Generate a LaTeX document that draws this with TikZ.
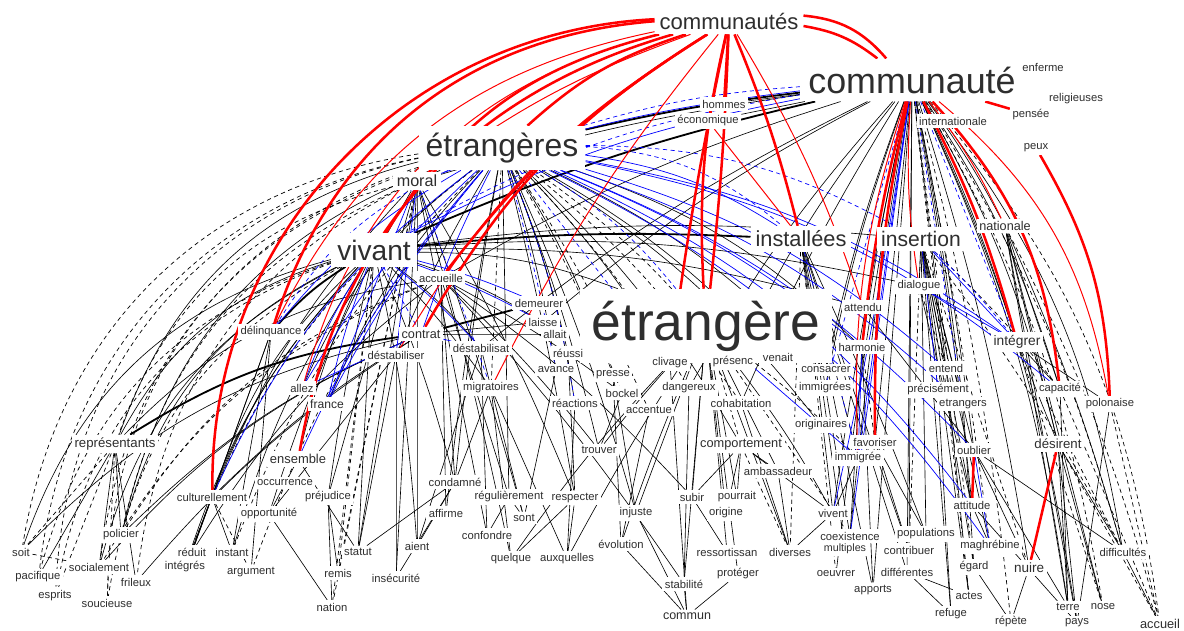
\documentclass[tikz,border=0pt]{standalone}
\usepackage{fontspec}
\setmainfont{Liberation Sans}
\usetikzlibrary{positioning}
\pgfdeclarelayer{edges}
\pgfsetlayers{edges,main}
\tikzset{
	word/.style={fill=white,inner sep={#1*0.22pt},text=black!82,font=\fontsize{#1}{#1}\selectfont},
	word/.default=8,
	bendto/.style={out={-(#1)},in={180+(#1)},relative},
	redE/.style={red,line width=1.8pt},
	redT/.style={red,line width=0.7pt},
	blkB/.style={black,line width=1.3pt},
	blkE/.style={black,line width=0.45pt},
	blkD/.style={black,line width=0.5pt,dash pattern=on 3pt off 2.5pt},
	bluE/.style={blue,line width=0.5pt},
	bluD/.style={blue,line width=0.5pt,dash pattern=on 3pt off 2.5pt},
}
\begin{document}
\begin{tikzpicture}[x=0.025cm,y=-0.025cm]
\useasboundingbox (0,0) rectangle (1184,631);
% big words
\node[word=15.7] (communautes) at (729,21) {communautés};
\node[word=25.5] (communaute) at (912,80) {communauté};
\node[word=22.7] (etrangeres) at (502,148) {étrangères};
\node[word=20] (vivant) at (374,250) {vivant};
\node[word=15.5] (installees) at (801,239) {installées};
\node[word=15] (insertion) at (921,239) {insertion};
\node[word=38] (etrangere) at (706,326) {étrangère};
\node[word=11.5] (moral) at (417,181) {moral};
\node[word=9] (nationale) at (1005,226) {nationale};
\node[word=9.8] (integrer) at (1017,342) {intégrer};
\node[word=9.4] (desirent) at (1058,444) {désirent};
\node[word=9.4] (representants) at (115,444) {représentants};
\node[word=9.1] (comportement) at (741,445) {comportement};
\node[word=9.2] (ensemble) at (298,459) {ensemble};
\node[word=9.6] (nuire) at (1029,568) {nuire};
\node[word=8.9] (commun) at (687,616) {commun};
\node[word=9.1] (accueil) at (1160,624) {accueil};
\node[word=9] (contrat) at (421,334) {contrat};
% small words, top
\node[word] (enferme) at (1043,67) {enferme};
\node[word] (religieuses) at (1076,99) {religieuses};
\node[word] (pensee) at (1031,115) {pensée};
\node[word] (internationale) at (953,121) {internationale};
\node[word] (peux) at (1036,148) {peux};
\node[word] (hommes) at (724,104) {hommes};
\node[word] (economique) at (708,121) {économique};
% small words, middle
\node[word] (accueille) at (441,278) {accueille};
\node[word] (demeurer) at (539,303) {demeurer};
\node[word] (laisse) at (543,322) {laisse};
\node[word] (allait) at (555,334) {allait};
\node[word] (delinquance) at (271,332) {délinquance};
\node[word] (destabilisat) at (481,348) {déstabilisat};
\node[word] (destabiliser) at (396,355) {déstabiliser};
\node[word] (reussi) at (568,353) {réussi};
\node[word] (avance) at (556,370) {avance};
\node[word] (migratoires) at (491,388) {migratoires};
\node[word] (reactions) at (575,403) {réactions};
\node[word] (allez) at (302,388) {allez};
\node[word=8.6] (france) at (327,404) {france};
\node[word] (presse) at (613,375) {presse};
\node[word] (bockel) at (622,393) {bockel};
\node[word] (accentue) at (649,410) {accentue};
\node[word] (clivage) at (670,363) {clivage};
\node[word] (dangereux) at (689,388) {dangereux};
\node[word] (presenc) at (733,362) {présenc};
\node[word] (venait) at (778,357) {venait};
\node[word] (consacrer) at (826,370) {consacrer};
\node[word] (immigrees) at (825,388) {immigrées};
\node[word] (cohabitation) at (741,403) {cohabitation};
\node[word] (attendu) at (863,307) {attendu};
\node[word] (harmonie) at (862,347) {harmonie};
\node[word] (dialogue) at (919,286) {dialogue};
\node[word] (entend) at (946,368) {entend};
\node[word] (precisement) at (938,390) {précisément};
\node[word] (etrangers) at (963,404) {etrangers};
\node[word] (capacite) at (1060,389) {capacité};
\node[word] (polonaise) at (1110,404) {polonaise};
\node[word] (originaires) at (821,425) {originaires};
\node[word] (favoriser) at (875,442) {favoriser};
\node[word] (immigree) at (858,458) {immigrée};
\node[word] (ambassadeur) at (778,471) {ambassadeur};
\node[word] (oublier) at (974,450) {oublier};
% small words, lower middle
\node[word] (trouver) at (599,450) {trouver};
\node[word] (condamne) at (455,482) {condamné};
\node[word] (regulierement) at (509,497) {régulièrement};
\node[word] (respecter) at (575,498) {respecter};
\node[word] (affirme) at (446,513) {affirme};
\node[word] (sont) at (524,518) {sont};
\node[word] (confondre) at (487,535) {confondre};
\node[word] (quelque) at (511,559) {quelque};
\node[word] (auxquelles) at (567,559) {auxquelles};
\node[word] (subir) at (692,497) {subir};
\node[word] (pourrait) at (737,497) {pourrait};
\node[word] (origine) at (726,513) {origine};
\node[word] (injuste) at (636,513) {injuste};
\node[word] (evolution) at (621,544) {évolution};
\node[word] (ressortissan) at (727,552) {ressortissan};
\node[word] (diverses) at (790,552) {diverses};
\node[word] (proteger) at (738,574) {protéger};
\node[word] (stabilite) at (684,584) {stabilité};
\node[word] (vivent) at (833,513) {vivent};
\node[word] (coexistence) at (850,536) {coexistence};
\node[word=7.6] (multiples) at (845,549) {multiples};
\node[word] (oeuvrer) at (836,574) {oeuvrer};
\node[word] (populations) at (926,534) {populations};
\node[word] (contribuer) at (909,550) {contribuer};
\node[word] (differentes) at (907,572) {différentes};
\node[word] (apports) at (873,590) {apports};
\node[word] (attitude) at (972,505) {attitude};
\node[word] (maghrebine) at (990,546) {maghrébine};
\node[word] (egard) at (974,567) {égard};
\node[word] (actes) at (969,596) {actes};
\node[word] (refuge) at (951,614) {refuge};
\node[word] (repete) at (1011,622) {répète};
\node[word] (terre) at (1068,607) {terre};
\node[word] (pays) at (1077,623) {pays};
\node[word] (nose) at (1103,607) {nose};
\node[word] (difficultes) at (1123,552) {difficultés};
% small words, left
\node[word] (culturellement) at (212,497) {culturellement};
\node[word] (occurrence) at (285,483) {occurrence};
\node[word] (opportunite) at (269,514) {opportunité};
\node[word] (prejudice) at (328,497) {préjudice};
\node[word] (policier) at (121,535) {policier};
\node[word] (soit) at (21,552) {soit};
\node[word] (reduit) at (192,552) {réduit};
\node[word] (instant) at (232,552) {instant};
\node[word] (socialement) at (99,567) {socialement};
\node[word] (integres) at (185,567) {intégrés};
\node[word] (argument) at (251,572) {argument};
\node[word] (pacifique) at (38,577) {pacifique};
\node[word] (frileux) at (136,582) {frileux};
\node[word] (esprits) at (55,596) {esprits};
\node[word] (soucieuse) at (107,603) {soucieuse};
\node[word] (statut) at (358,552) {statut};
\node[word] (aient) at (417,546) {aient};
\node[word] (remis) at (338,573) {remis};
\node[word] (insecurite) at (396,578) {insécurité};
\node[word] (nation) at (332,607) {nation};

\begin{pgfonlayer}{edges}
% black, solid
\foreach \a/\b/\g in {vivant/representants/22,vivant/soit/28,vivant/policier/24,vivant/socialement/24,vivant/culturellement/14,vivant/reduit/12,vivant/integres/12,vivant/instant/8,vivant/ensemble/6,vivant/prejudice/2,vivant/statut/0,vivant/aient/-4,vivant/condamne/-4,vivant/laisse/-6,vivant/destabilisat/-6,vivant/migratoires/-4,vivant/etrangere/-10,vivant/attendu/-8,vivant/dialogue/-8,vivant/insertion/-6,
	etrangeres/representants/28,etrangeres/policier/28,etrangeres/allez/14,etrangeres/france/10,etrangeres/destabiliser/4,etrangeres/presse/-6,etrangeres/reussi/-4,etrangeres/avance/-4,etrangeres/reactions/-6,etrangeres/trouver/-4,etrangeres/regulierement/0,etrangeres/respecter/-2,etrangeres/harmonie/-12,etrangeres/clivage/-6,etrangeres/venait/-8,etrangeres/consacrer/-10,etrangeres/originaires/-10,etrangeres/comportement/-8,etrangeres/injuste/-4,etrangeres/condamne/2,etrangeres/affirme/2,
	moral/prejudice/0,moral/statut/0,moral/insecurite/0,moral/aient/0,moral/sont/-2,moral/quelque/-2,moral/confondre/0,moral/respecter/-4,moral/culturellement/10,moral/opportunite/6,
	accueille/condamne/0,accueille/regulierement/0,accueille/bockel/-4,accueille/trouver/-4,accueille/subir/-6,accueille/stabilite/-4,accueille/affirme/0,accueille/representants/18,accueille/reduit/10,
	delinquance/culturellement/0,delinquance/reduit/0,delinquance/instant/0,delinquance/argument/0,contrat/policier/10,contrat/socialement/12,contrat/soit/16,contrat/culturellement/6,contrat/frileux/8,contrat/laisse/0,contrat/allait/0,
	destabiliser/statut/0,destabiliser/insecurite/0,destabiliser/opportunite/0,destabilisat/confondre/0,destabilisat/sont/0,destabilisat/aient/0,migratoires/condamne/0,migratoires/quelque/0,migratoires/auxquelles/0,presse/evolution/0,presse/injuste/0,bockel/trouver/0,reussi/respecter/0,avance/sont/0,reactions/auxquelles/0,
	etrangere/ambassadeur/0,etrangere/subir/0,etrangere/pourrait/0,etrangere/origine/0,etrangere/ressortissan/0,etrangere/diverses/0,etrangere/vivent/-4,etrangere/stabilite/0,etrangere/injuste/0,etrangere/evolution/2,etrangere/trouver/2,etrangere/quelque/4,etrangere/proteger/0,etrangere/auxquelles/2,clivage/commun/0,dangereux/stabilite/0,accentue/evolution/0,cohabitation/diverses/0,
	installees/vivent/0,installees/coexistence/0,installees/immigree/0,installees/populations/-2,installees/contribuer/0,installees/differentes/0,installees/apports/0,installees/multiples/0,
	insertion/dialogue/0,insertion/entend/0,insertion/precisement/0,insertion/etrangers/0,insertion/oublier/0,insertion/attitude/0,insertion/maghrebine/0,insertion/egard/0,insertion/actes/0,insertion/refuge/0,insertion/populations/0,
	communaute/nationale/-4,communaute/integrer/-4,communaute/capacite/-8,communaute/desirent/-8,communaute/difficultes/-14,communaute/terre/-8,communaute/pays/-8,communaute/nuire/-4,communaute/attitude/-2,communaute/oublier/-2,communaute/entend/0,communaute/etrangers/-2,communaute/favoriser/0,communaute/vivent/2,communaute/coexistence/2,communaute/oeuvrer/2,communaute/apports/0,communaute/contribuer/0,communaute/differentes/0,communaute/harmonie/2,communaute/consacrer/4,communaute/immigrees/4,communaute/presenc/6,communaute/dangereux/6,communaute/cohabitation/4,communaute/hommes/0,communaute/economique/0,communaute/moral/4,communaute/accueille/6,communaute/destabilisat/6,communaute/laisse/6,
	nationale/desirent/0,nationale/difficultes/-4,nationale/terre/0,nationale/pays/0,nationale/nose/0,nationale/capacite/0,integrer/capacite/0,integrer/polonaise/0,integrer/desirent/0,desirent/terre/0,desirent/pays/0,desirent/nose/0,desirent/difficultes/0,oublier/nuire/0,oublier/terre/0,oublier/difficultes/0,attitude/maghrebine/0,attitude/pays/0,difficultes/accueil/0,nuire/repete/0,egard/repete/0,differentes/refuge/0,actes/differentes/0,
	representants/pacifique/0,representants/socialement/0,representants/policier/0,representants/frileux/0,culturellement/reduit/0,culturellement/integres/0,culturellement/instant/0,opportunite/nation/0,prejudice/remis/0,prejudice/nation/0,ensemble/statut/0,ensemble/opportunite/0,condamne/statut/0,condamne/insecurite/0,condamne/aient/0,regulierement/confondre/0,regulierement/sont/0,respecter/auxquelles/0,respecter/quelque/0,
	evolution/commun/0,stabilite/commun/0,proteger/commun/0,injuste/commun/0,subir/ressortissan/0,pourrait/origine/0,ambassadeur/diverses/0,vivent/diverses/0,comportement/subir/0,comportement/pourrait/0,comportement/origine/0,comportement/ambassadeur/0,comportement/vivent/0,immigree/vivent/0,favoriser/populations/0,favoriser/contribuer/0,harmonie/coexistence/0,harmonie/apports/0,attendu/oublier/0,dialogue/attitude/0,entend/actes/0,precisement/refuge/0,etrangers/egard/0,capacite/terre/0,polonaise/pays/0}
	\draw[blkE] (\a) to[bendto=\g] (\b);
% black, dashed
\foreach \a/\b/\g in {etrangeres/soit/36,etrangeres/pacifique/36,etrangeres/esprits/38,etrangeres/soucieuse/36,etrangeres/socialement/32,etrangeres/frileux/30,moral/representants/28,moral/policier/26,vivant/esprits/30,vivant/pacifique/28,vivant/soucieuse/26,accueille/policier/18,accueille/socialement/18,etrangeres/integres/16,etrangeres/instant/12,etrangeres/argument/10,moral/remis/0,moral/nation/0,etrangeres/migratoires/0,etrangeres/bockel/-4,etrangeres/accentue/-4,etrangeres/dangereux/-6,etrangeres/presenc/-8,etrangeres/cohabitation/-8,
	communaute/accueil/-16,communaute/difficultes/-8,communaute/nose/-10,communaute/repete/-4,communaute/maghrebine/-2,communaute/egard/0,communaute/actes/0,nationale/accueil/-6,polonaise/accueil/0,capacite/accueil/0,insertion/capacite/-4,insertion/difficultes/-4,insertion/nuire/0,insertion/contribuer/0,integrer/nose/0,integrer/difficultes/0,desirent/accueil/0,
	representants/soit/0,representants/esprits/0,representants/soucieuse/0,soit/socialement/0,culturellement/argument/0,installees/diverses/0,installees/oeuvrer/0,comportement/diverses/0,vivant/remis/0,vivant/nation/0,etrangere/coexistence/0,etrangere/comportement/0,etrangere/immigree/-4,harmonie/favoriser/0,dialogue/entend/0}
	\draw[blkD] (\a) to[bendto=\g] (\b);
% black, heavy bundles
\foreach \a/\b/\g in {communaute/vivant/5,communaute/etrangeres/3,contrat/demeurer/0,vivant/installees/-4,contrat/representants/12,vivant/delinquance/8}
	\draw[blkB] (\a) to[bendto=\g] (\b);
% blue
\foreach \a/\b/\g in {etrangeres/delinquance/10,etrangeres/allez/8,etrangeres/france/6,etrangeres/culturellement/14,etrangeres/ensemble/8,etrangeres/contrat/4,communaute/vivant/8,communaute/moral/6,etrangeres/integrer/-12,etrangeres/entend/-12,etrangeres/capacite/-14,etrangeres/attitude/-14,etrangeres/maghrebine/-14,etrangeres/oublier/-12,etrangeres/etrangers/-12,etrangeres/harmonie/-8,etrangeres/installees/-12,vivant/destabilisat/-4,vivant/laisse/-4,vivant/demeurer/-4,vivant/allez/6,vivant/france/4,contrat/allez/0,contrat/destabilisat/0,communaute/vivent/-2,communaute/immigree/0,communaute/coexistence/0,moral/france/0,moral/destabiliser/0,harmonie/immigree/0,etrangere/immigree/0,insertion/precisement/0,insertion/integrer/0,oublier/maghrebine/0,dialogue/integrer/0}
	\draw[bluE] (\a) to[bendto=\g] (\b);
\foreach \a/\b/\g in {etrangeres/installees/-18,etrangeres/etrangere/-10,etrangeres/insertion/-14,communaute/etrangeres/6,communaute/vivant/10,moral/migratoires/0,communaute/immigrees/0,communaute/etrangers/0,etrangeres/delinquance/16,etrangeres/reactions/-6,etrangeres/clivage/0,insertion/integrer/-4,communaute/integrer/0,etrangeres/avance/-2,vivant/contrat/0,installees/immigree/0}
	\draw[bluD] (\a) to[bendto=\g] (\b);
% red
\foreach \a/\b/\g in {communautes/allez/30,communautes/delinquance/26,communautes/destabiliser/14,communautes/moral/8,communautes/migratoires/6,communautes/economique/0,communautes/attendu/-6,communaute/nationale/-6,communaute/immigree/10,communaute/dialogue/6,communaute/polonaise/-20,economique/installees/0}
	\draw[redT] (\a) to[bendto=\g] (\b);
\foreach \a/\b/\g in {communautes/culturellement/44,communautes/ensemble/32,communautes/delinquance/34,communautes/vivant/22,communautes/etrangeres/12,communautes/accueille/10,communautes/contrat/14,communautes/etrangere/8,communautes/etrangere/-2,communautes/hommes/0,communautes/installees/-4,communautes/communaute/-14,communautes/communaute/-22,peux/polonaise/-14,communaute/capacite/-18,communaute/integrer/-6,communaute/pensee/0,communaute/favoriser/6,communaute/harmonie/4,desirent/nuire/0,attitude/oublier/0,communautes/clivage/2}
	\draw[redE] (\a) to[bendto=\g] (\b);
\end{pgfonlayer}
\end{tikzpicture}
\end{document}
